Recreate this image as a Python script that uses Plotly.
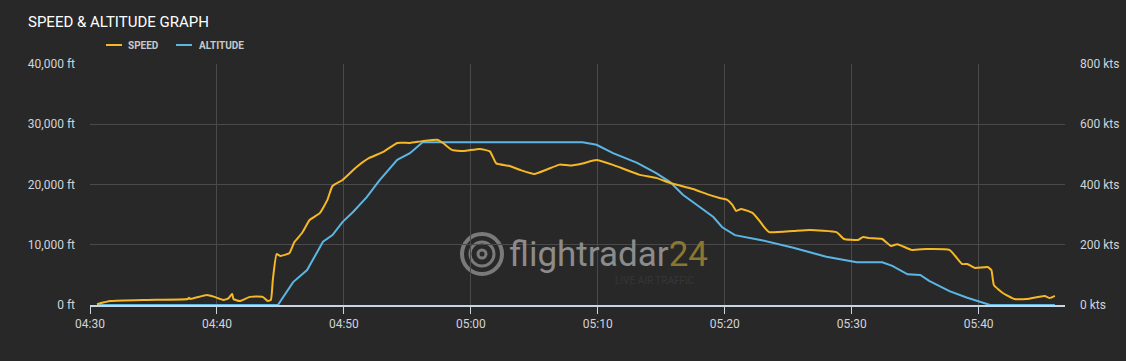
import plotly.graph_objects as go
import pandas as pd

# ---- data ----
alt_times = ["04:30:33", "04:44:48", "04:46:00", "04:47:06", "04:48:21", "04:49:06", "04:49:54",
             "04:50:42", "04:51:48", "04:52:48", "04:54:12", "04:55:12", "04:56:12", "05:08:48",
             "05:09:54", "05:11:12", "05:13:06", "05:14:36", "05:15:42", "05:16:42", "05:18:00",
             "05:19:06", "05:19:48", "05:20:48", "05:22:48", "05:25:24", "05:28:00", "05:30:24",
             "05:32:24", "05:33:12", "05:34:24", "05:35:24", "05:36:06", "05:37:42", "05:39:06",
             "05:40:36", "05:40:54", "05:46:00"]
altitude_ft = [0, 0, 3800, 5800, 10500, 11600, 13800,
               15400, 17900, 20700, 24100, 25200, 27000, 27000,
               26600, 25200, 23600, 21900, 20400, 18300, 16300,
               14600, 12900, 11600, 10800, 9500, 8000, 7100,
               7100, 6500, 5100, 5000, 4000, 2300, 1200,
               300, 0, 0]

spd_times = ["04:30:33", "04:31:36", "04:34:30", "04:37:42", "04:37:48", "04:37:54", "04:39:12",
             "04:39:48", "04:40:30", "04:40:54", "04:41:12", "04:41:18", "04:41:48", "04:42:36",
             "04:43:36", "04:44:00", "04:44:15", "04:44:24", "04:44:42", "04:45:00", "04:45:42",
             "04:46:06", "04:46:42", "04:47:18", "04:48:06", "04:48:42", "04:49:06", "04:49:54",
             "04:51:00", "04:52:00", "04:53:06", "04:54:12", "04:55:12", "04:56:12", "04:57:24",
             "04:57:48", "04:58:30", "04:59:24", "05:00:42", "05:01:30", "05:02:00", "05:03:00",
             "05:03:54", "05:05:00", "05:06:00", "05:07:00", "05:07:48", "05:08:48", "05:09:54",
             "05:11:12", "05:13:18", "05:14:36", "05:15:42", "05:17:30", "05:18:36", "05:19:36",
             "05:20:12", "05:20:36", "05:20:54", "05:21:18", "05:22:12", "05:22:48", "05:23:06",
             "05:23:30", "05:25:24", "05:26:42", "05:28:48", "05:29:24", "05:30:30", "05:30:54",
             "05:31:24", "05:32:24", "05:33:06", "05:33:36", "05:34:42", "05:35:54", "05:37:42",
             "05:38:42", "05:39:06", "05:39:42", "05:40:42", "05:41:00", "05:41:12", "05:41:54",
             "05:42:48", "05:43:48", "05:45:12", "05:45:36", "05:46:00"]
speed_kts = [3, 13, 17, 20, 24, 20, 33,
             27, 17, 22, 37, 20, 13, 27,
             27, 13, 17, 83, 169, 163, 172,
             209, 239, 282, 305, 349, 395, 415,
             458, 488, 508, 538, 538, 544, 548,
             538, 515, 511, 518, 510, 470, 462,
             448, 435, 450, 466, 463, 470, 481,
             465, 432, 422, 405, 385, 368, 355,
             349, 332, 312, 319, 305, 276, 259,
             242, 246, 249, 242, 219, 216, 226,
             222, 219, 196, 202, 183, 186, 183,
             136, 136, 123, 126, 116, 66, 40,
             20, 20, 30, 23, 30]

DAY = "2024-01-01 "
alt_x = pd.to_datetime([DAY + t for t in alt_times])
spd_x = pd.to_datetime([DAY + t for t in spd_times])

BG = "#282828"
GRID = "#4a4a4a"
TICK = "#d0d4da"
YELLOW = "#f6b825"
BLUE = "#5bb6e4"

fig = go.Figure()
fig.add_trace(go.Scatter(x=spd_x, y=speed_kts, name="SPEED", mode="lines",
                         line=dict(color=YELLOW, width=2, shape="spline", smoothing=0.4), yaxis="y2"))
fig.add_trace(go.Scatter(x=alt_x, y=altitude_ft, name="ALTITUDE", mode="lines",
                         line=dict(color=BLUE, width=2)))

L, R, T, B = 90, 61, 64, 56
W, H = 1126, 361
pw, ph = W - L - R, H - T - B

def px(x):
    return (x - L) / pw

def py(y):
    return (H - B - y) / ph

shapes = []
annotations = []

# manual legend
shapes.append(dict(type="line", xref="paper", yref="paper", x0=px(106), x1=px(122),
                   y0=py(45), y1=py(45), line=dict(color=YELLOW, width=2)))
shapes.append(dict(type="line", xref="paper", yref="paper", x0=px(176), x1=px(192),
                   y0=py(45), y1=py(45), line=dict(color=BLUE, width=2)))
annotations.append(dict(text="<b>SPEED</b>", xref="paper", yref="paper", x=px(126), y=py(45),
                        xanchor="left", yanchor="middle", showarrow=False,
                        font=dict(family="Roboto", size=10, color="#c8c8c8")))
annotations.append(dict(text="<b>ALTITUDE</b>", xref="paper", yref="paper", x=px(197), y=py(45),
                        xanchor="left", yanchor="middle", showarrow=False,
                        font=dict(family="Roboto", size=10, color="#c8c8c8")))

# watermark
cx, cy = 482, 254
for r, w in [(20, 4), (12, 3), (4, 3)]:
    shapes.append(dict(type="circle", xref="paper", yref="paper", layer="below",
                       x0=px(cx - r), x1=px(cx + r), y0=py(cy + r), y1=py(cy - r),
                       line=dict(color="#7a7a7a", width=w)))
annotations.append(dict(text="<span style='color:#8c8c8c'>flightradar</span><span style='color:#8d7630'>24</span>",
                        xref="paper", yref="paper", x=px(507), y=py(254), xanchor="left", yanchor="middle",
                        showarrow=False, font=dict(family="Roboto", size=35)))
annotations.append(dict(text="LIVE AIR TRAFFIC", xref="paper", yref="paper", x=px(655), y=py(280),
                        xanchor="center", yanchor="middle", showarrow=False,
                        font=dict(family="Roboto", size=10, color="#363636")))

fig.update_layout(
    width=W, height=H,
    paper_bgcolor=BG, plot_bgcolor=BG,
    margin=dict(l=L, r=R, t=T, b=B, autoexpand=False),
    showlegend=False,
    title=dict(text="SPEED & ALTITUDE GRAPH", x=28 / W, xanchor="left", y=1 - 22 / H, yanchor="middle",
               font=dict(family="Roboto", size=15, color="#ffffff")),
    font=dict(family="Roboto", color=TICK, size=12),
    xaxis=dict(type="date", range=[DAY + "04:30:00", DAY + "05:46:48"],
               dtick=600000, tick0=DAY + "04:30:00", tickformat="%H:%M",
               showgrid=True, gridcolor=GRID, gridwidth=1,
               showline=True, linecolor="#c8d6e4", linewidth=1.5,
               ticks="outside", ticklen=7, tickcolor="#c8d6e4",
               tickfont=dict(size=12, color=TICK), zeroline=False),
    yaxis=dict(range=[0, 40000], dtick=10000, tickformat=",", ticksuffix=" ft",
               showgrid=True, gridcolor=GRID, gridwidth=1, zeroline=False,
               ticklabelstandoff=14, tickfont=dict(size=12, color=TICK)),
    yaxis2=dict(range=[0, 800], dtick=200, ticksuffix=" kts", overlaying="y", side="right",
                showgrid=False, zeroline=False, ticklabelstandoff=14,
                tickfont=dict(size=12, color=TICK)),
    shapes=shapes, annotations=annotations,
)

fig.write_html("out.html")
